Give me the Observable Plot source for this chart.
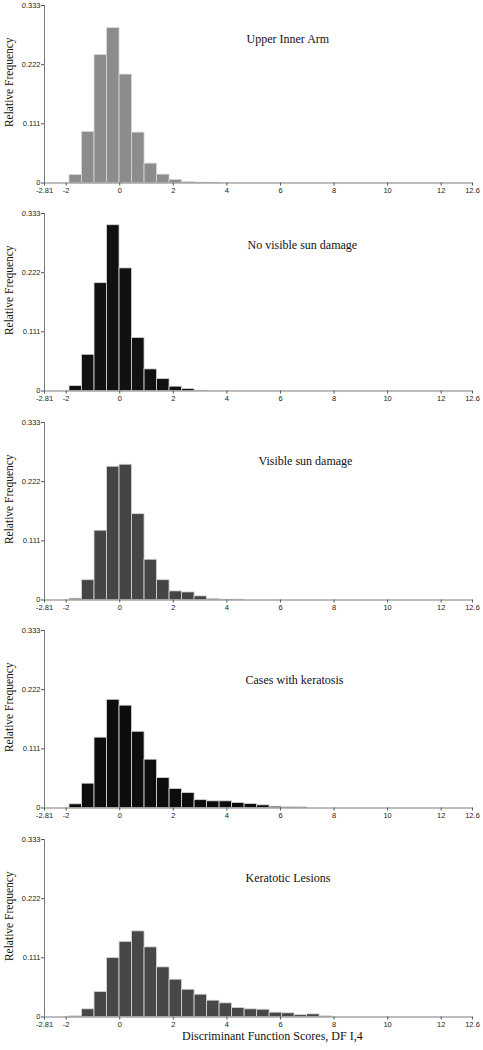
<!DOCTYPE html>
<html>
<head>
<meta charset="utf-8">
<script src="https://cdn.jsdelivr.net/npm/d3@7"></script>
<script src="https://cdn.jsdelivr.net/npm/@observablehq/plot@0.6"></script>
<style>
  html, body { margin: 0; padding: 0; background: #fff; }
  #wrap { position: relative; width: 483px; height: 1050px; }
  #xtitle { position: absolute; left: 182px; top: 1028px; font: 12px "Liberation Serif", "Times New Roman", serif; color: #111; line-height: 16px; white-space: nowrap; }
</style>
</head>
<body>
<div id="wrap"><div id="charts"></div><div id="xtitle">Discriminant Function Scores, DF I,4</div></div>
<script>
// Histogram bins: 33 equal bins spanning -2.81 .. 12.6
const binMin = -2.81;
const binMax = 12.6;
const binCount = 33;

const panelTitles = ["Upper Inner Arm", "No visible sun damage", "Visible sun damage", "Cases with keratosis", "Keratotic Lesions"];

// relative frequency per bin (bin 0 starts at -2.81)
const upperInnerArm = [0, 0, 0.015, 0.0958, 0.240, 0.2905, 0.2034, 0.0945, 0.0363, 0.0157, 0.0056, 0.0019, 0.0007, 0.0003];
const noVisibleSunDamage = [0, 0, 0.0093, 0.0679, 0.2023, 0.311, 0.230, 0.0996, 0.0405, 0.0224, 0.0081, 0.0037, 0.0005];
const visibleSunDamage = [0, 0, 0.0025, 0.0371, 0.130, 0.250, 0.2538, 0.161, 0.0755, 0.0371, 0.0161, 0.0142, 0.0068, 0.002, 0.0006, 0.0006];
const casesWithKeratosis = [0, 0, 0.0069, 0.0456, 0.132, 0.203, 0.192, 0.143, 0.0906, 0.0562, 0.0356, 0.0281, 0.0147, 0.0125, 0.0125, 0.0094, 0.0075, 0.005, 0.0025, 0.0012, 0.0012];
const keratoticLesions = [0, 0, 0.0012, 0.0144, 0.0469, 0.1105, 0.141, 0.1606, 0.1306, 0.0931, 0.070, 0.0512, 0.0419, 0.0306, 0.0256, 0.0169, 0.0144, 0.0137, 0.0081, 0.0069, 0.0035, 0.005, 0.0012];

const xTickValues = [-2.81, -2, 0, 2, 4, 6, 8, 10, 12, 13.17];
const xTickLabels = ["-2.81", "-2", "0", "2", "4", "6", "8", "10", "12", "12.6"];
const yTickValues = [0, 0.111, 0.222, 0.333];
const yTickLabels = ["0", "0.111", "0.222", "0.333"];

const series = [upperInnerArm, noVisibleSunDamage, visibleSunDamage, casesWithKeratosis, keratoticLesions];
const fills = ["#8c8c8c", "#111111", "#454545", "#0d0d0d", "#474747"];
const heights = [208, 209, 208, 209, 198];
const titleDx = [202, 203, 214, 201, 201];
const titleDy = [29, 27, 34, 45, 34];

const binW = (binMax - binMin) / binCount;
const xLabelMap = new Map(xTickValues.map((v, i) => [v, xTickLabels[i]]));
const yLabelMap = new Map(yTickValues.map((v, i) => [v, yTickLabels[i]]));

const container = document.getElementById("charts");
series.forEach((vals, p) => {
  const data = vals.map((v, i) => ({x1: binMin + i * binW, x2: binMin + (i + 1) * binW, y: v})).filter(d => d.y > 0);
  const h = heights[p];
  const svg = Plot.plot({
    width: 483,
    height: h,
    marginLeft: 44,
    marginRight: 11,
    marginTop: 5,
    marginBottom: h - 182.5,
    style: {fontFamily: "'Liberation Sans', Arial, sans-serif", fontSize: "7.5px", color: "#222", background: "#fff"},
    x: {domain: [binMin, 13.17]},
    y: {domain: [0, 0.333]},
    marks: [
      Plot.rectY(data, {x1: "x1", x2: "x2", y: "y", fill: fills[p], stroke: "#d8d8d8", strokeWidth: 0.8}),
      Plot.ruleY([0], {stroke: "#7a7a7a", strokeWidth: 1}),
      Plot.ruleX([binMin], {y1: 0, y2: 0.333, stroke: "#7a7a7a", strokeWidth: 1}),
      Plot.axisX({ticks: xTickValues, tickFormat: d => xLabelMap.get(d), tickSize: 3, tickPadding: 2, stroke: "#555", fill: "#222", label: null}),
      Plot.axisY({ticks: yTickValues, tickFormat: d => yLabelMap.get(d), tickSize: 3, tickPadding: 1, stroke: "#555", fill: "#222", label: null}),
      Plot.text(["Relative Frequency"], {frameAnchor: "left", textAnchor: "middle", dx: -35, dy: -12, rotate: -90, fontFamily: "'Liberation Serif', 'Times New Roman', serif", fontSize: 11.5, fill: "#111"}),
      Plot.text([panelTitles[p]], {frameAnchor: "top-left", dx: titleDx[p], dy: titleDy[p], textAnchor: "start", fontFamily: "'Liberation Serif', 'Times New Roman', serif", fontSize: 12, fill: "#111"})
    ]
  });
  svg.style.display = "block";
  container.appendChild(svg);
});
</script>
</body>
</html>
